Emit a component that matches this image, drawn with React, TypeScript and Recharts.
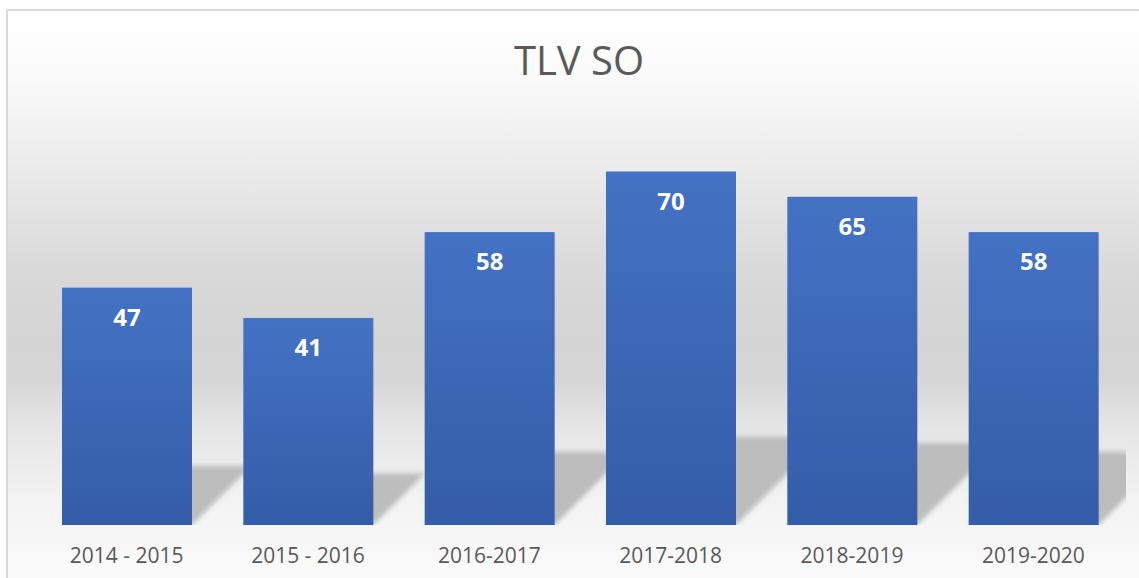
import React from 'react';
import { BarChart, Bar, XAxis, YAxis, LabelList } from 'recharts';

const CATEGORIES = ['2014 - 2015', '2015 - 2016', '2016-2017', '2017-2018', '2018-2019', '2019-2020'];
const VALUES = [47, 41, 58, 70, 65, 58];

const data = CATEGORIES.map((name, i) => ({ name, value: VALUES[i] }));

const W = 1139;
const H = 578;
const MARGIN = { top: 121, right: 15, bottom: 13, left: 36 };
const TEXT = '#595959';
const FONT = '"Open Sans", "Noto Sans", sans-serif';

// bar with the skewed, flattened shadow thrown to the back-right
const ShadowBar = (props: any) => {
  const { x, y, width, height } = props;
  const base = y + height;
  const sh = height * 0.25;
  const pts = [
    [x, base],
    [x + width, base],
    [x + width + sh, base - sh],
    [x + sh, base - sh],
  ]
    .map((p) => p.join(','))
    .join(' ');
  return (
    <g>
      <g clipPath="url(#plotClip)">
        <polygon points={pts} fill="#bcbcbc" filter="url(#shadowBlur)" />
      </g>
      <rect x={x} y={y} width={width} height={height} fill="url(#barGrad)" />
    </g>
  );
};

export default function App() {
  return (
    <div style={{ position: 'absolute', left: 0, top: 0, width: W, height: H, overflow: 'hidden', background: '#fff' }}>
      <div
        style={{
          position: 'absolute',
          left: 6,
          top: 9,
          width: 1180,
          height: 620,
          border: '2px solid #d9d9d9',
          background:
            'linear-gradient(to bottom, #ffffff 0px, #fbfbfb 60px, #ebebeb 158px, #d9d9d9 258px, #d4d4d4 330px, #d6d6d6 370px, #e3e3e3 408px, #eaeaea 440px, #f3f3f3 490px, #fafafa 558px, #fcfcfc 620px)',
        }}
      />
      <div
        style={{
          position: 'absolute',
          left: 0,
          top: 32,
          width: 1158,
          textAlign: 'center',
          fontFamily: FONT,
          fontSize: 40,
          color: TEXT,
          lineHeight: 'normal',
        }}
      >
        TLV SO
      </div>
      <div style={{ position: 'absolute', left: 0, top: 0 }}>
        <BarChart width={W} height={H} data={data} margin={MARGIN}>
          <defs>
            <linearGradient id="barGrad" x1="0" y1="0" x2="0" y2="1">
              <stop offset="0%" stopColor="#4472C4" />
              <stop offset="100%" stopColor="#345CA8" />
            </linearGradient>
            <filter id="shadowBlur" x="-20%" y="-20%" width="140%" height="140%">
              <feGaussianBlur stdDeviation="2.5" />
            </filter>
            <clipPath id="plotClip">
              <rect x={MARGIN.left} y={0} width={W - MARGIN.left - MARGIN.right + 2} height={H - MARGIN.bottom - 40} />
            </clipPath>
          </defs>
          <XAxis
            dataKey="name"
            axisLine={false}
            tickLine={false}
            tickSize={0}
            tickMargin={23}
            height={40}
            interval={0}
            tick={{ fill: TEXT, fontSize: 21, fontFamily: FONT }}
          />
          <YAxis hide domain={[0, 80]} />
          <Bar dataKey="value" barSize={130} shape={ShadowBar} isAnimationActive={false}>
            <LabelList
              dataKey="value"
              position="insideTop"
              offset={21}
              fill="#ffffff"
              fontSize={24}
              fontWeight="bold"
              fontFamily={FONT}
            />
          </Bar>
        </BarChart>
      </div>
    </div>
  );
}
